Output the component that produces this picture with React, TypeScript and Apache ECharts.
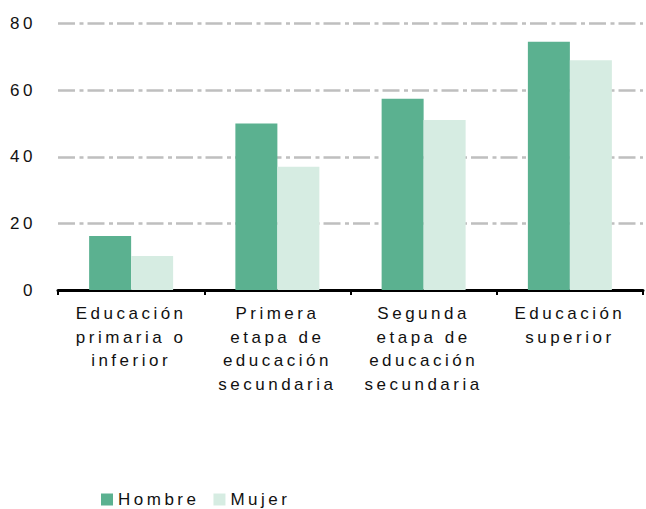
import React, { useEffect, useRef } from "react";
import * as echarts from "echarts";

const categories = [
  "Educación\nprimaria o\ninferior",
  "Primera\netapa de\neducación\nsecundaria",
  "Segunda\netapa de\neducación\nsecundaria",
  "Educación\nsuperior",
];
const hombre = [16.2, 50.0, 57.4, 74.5];
const mujer = [10.2, 37.0, 51.0, 69.0];
const yTicks = { min: 0, max: 80, interval: 20 };

const FONT = "'Liberation Sans', Arial, sans-serif";

export default function App() {
  const ref = useRef<HTMLDivElement>(null);
  useEffect(() => {
    document.body.style.margin = "0";
    if (!ref.current) return;
    const chart = echarts.init(ref.current, undefined, { renderer: "svg" });
    chart.setOption({
      animation: false,
      textStyle: { fontFamily: FONT },
      grid: { left: 58, right: 3, top: 23.5, bottom: 219, containLabel: false },
      legend: {
        left: 96,
        top: 486,
        itemWidth: 12,
        itemHeight: 12,
        itemGap: 35,
        icon: "rect",
        textStyle: { fontSize: 17, color: "#111", fontFamily: FONT },
        data: ["Hombre", "Mujer"],
      },
      xAxis: {
        type: "category",
        data: categories,
        axisLine: { lineStyle: { color: "#000", width: 3 } },
        axisTick: { show: true, length: 5, lineStyle: { color: "#000", width: 2 } },
        axisLabel: {
          fontSize: 17,
          color: "#111",
          lineHeight: 23.5,
          margin: 12,
          interval: 0,
          fontFamily: FONT,
        },
      },
      yAxis: {
        type: "value",
        min: yTicks.min,
        max: yTicks.max,
        interval: yTicks.interval,
        axisLine: { show: false },
        axisTick: { show: false },
        axisLabel: { fontSize: 17, color: "#111", margin: 22, fontFamily: FONT },
        splitLine: {
          lineStyle: { color: "#BFBFBF", width: 2.5, type: [17, 4.5, 4, 4] },
        },
      },
      series: [
        {
          name: "Hombre",
          type: "bar",
          data: hombre,
          barWidth: 42,
          barGap: "0%",
          itemStyle: { color: "#5BB190" },
        },
        {
          name: "Mujer",
          type: "bar",
          data: mujer,
          barWidth: 42,
          barGap: "0%",
          itemStyle: { color: "#D6ECE2" },
        },
      ],
    });
    return () => chart.dispose();
  }, []);
  return (
    <div
      ref={ref}
      style={{ width: 646, height: 509, letterSpacing: "3.5px" }}
    />
  );
}
